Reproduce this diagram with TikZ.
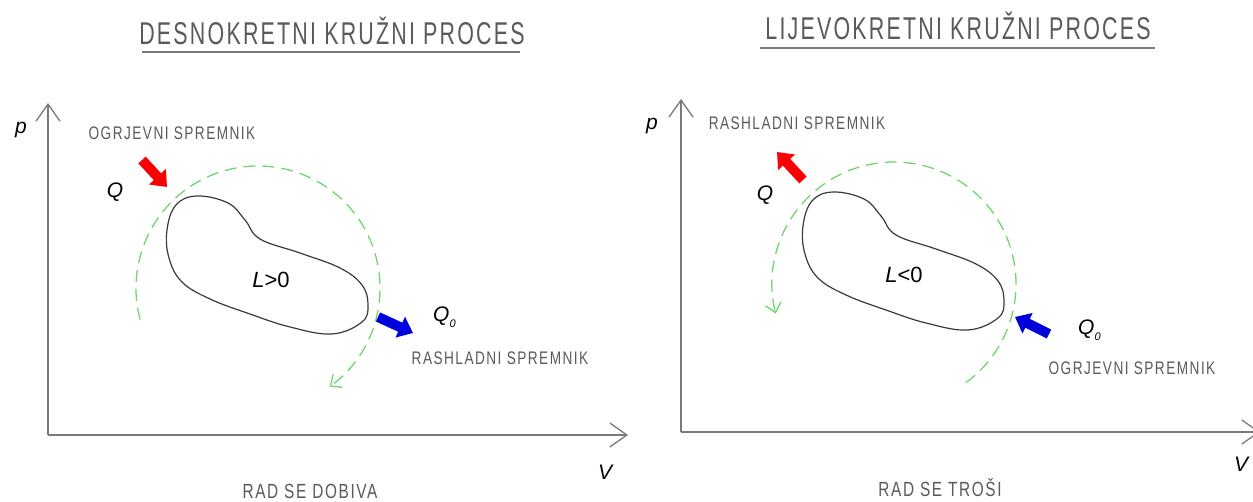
\documentclass[tikz,border=0pt]{standalone}
\usepackage{fontspec}
\setmainfont{Liberation Sans}
\newfontfamily\titlefont[FakeStretch=0.68,LetterSpace=7]{Liberation Sans}
\newfontfamily\lblfont[FakeStretch=0.75,LetterSpace=8]{Liberation Sans}
\usetikzlibrary{arrows.meta}
\definecolor{txtgray}{HTML}{5A5A5A}
\definecolor{axisgray}{HTML}{7A7A7A}
\definecolor{cycgray}{HTML}{3A3A3A}
\definecolor{flowgreen}{RGB}{110,215,110}
\definecolor{hotred}{RGB}{250,0,0}
\definecolor{coldblue}{RGB}{0,0,220}
\tikzset{
  axis/.style={draw=axisgray, line width=1.3pt, -{Straight Barb[length=17pt,width=24pt]}},
  cyc/.style={draw=cycgray, line width=1.2pt},
  flow/.style={draw=flowgreen, line width=1.3pt, dash pattern=on 12pt off 7pt, -{Straight Barb[length=9pt,width=16pt]}},
  hotarrow/.style={draw=hotred, line width=10pt, -{Triangle[length=14pt,width=22pt]}, hotred},
  coldarrow/.style={draw=coldblue, line width=10pt, -{Triangle[length=14pt,width=22pt]}, coldblue},
  lbl/.style={text=txtgray, inner sep=0pt, anchor=base, font=\lblfont\fontsize{18.2}{20}\selectfont},
  biglbl/.style={lbl, font=\lblfont\fontsize{20.5}{22}\selectfont},
  ttl/.style={text=txtgray, inner sep=0pt, anchor=base, font=\titlefont\fontsize{31.5}{33}\selectfont},
  sym/.style={text=black, inner sep=0pt, anchor=base, font=\fontsize{21}{23}\selectfont},
  uline/.style={draw=axisgray, line width=1.3pt}
}
\newcommand{\cycleshape}{%
  \draw[cyc] plot[smooth cycle, tension=0.65] coordinates {
    (197,-196) (228,-203) (245,-220) (260,-239) (300,-253) (340,-268)
    (362,-285) (368,-305) (362,-322) (332,-334) (290,-327) (250,-314)
    (210,-299) (182,-282) (169,-258) (167,-230) (176,-205)};}
\begin{document}
\begin{tikzpicture}[x=1pt,y=1pt]
\useasboundingbox (0,0) rectangle (1253,-502);
\clip (0,0) rectangle (1253,-502);
\fill[white] (0,0) rectangle (1253,-502);

% ---------------- left panel ----------------
\node[ttl] (t1) at (332,-45) {DESNOKRETNI KRUŽNI PROCES};
\coordinate (u1a) at (142,-52);
\coordinate (u1b) at (520,-52);
\draw[uline] (u1a) -- (u1b);

\coordinate (o1) at (48,-435);
\coordinate (py1) at (48,-103);
\coordinate (vx1) at (628,-435);
\draw[axis] (o1) -- (py1);
\draw[axis] (o1) -- (vx1);
\node[sym] (p1) at (21,-134) {\itshape p};
\node[sym] (v1) at (605,-479) {\itshape V};

\cycleshape
\node[sym, font=\fontsize{22}{24}\selectfont] (l1) at (271,-288) {\itshape L\upshape >0};

\draw[flow] (258,-288) ++(195:122) arc[start angle=195, end angle=-54, radius=122];

\coordinate (h1a) at (142,-160);
\coordinate (h1b) at (167,-187);
\draw[hotarrow] (h1a) -- (h1b);
\coordinate (c1a) at (378,-317);
\coordinate (c1b) at (413,-333);
\draw[coldarrow] (c1a) -- (c1b);

\node[lbl] (og1) at (172,-140) {OGRJEVNI SPREMNIK};
\node[lbl] (ra1) at (500,-365) {RASHLADNI SPREMNIK};
\node[biglbl] (rd1) at (310,-498) {RAD SE DOBIVA};
\node[sym] (q1) at (115,-198) {\itshape Q};
\node[sym, anchor=base west] (q01) at (433,-322) {\itshape Q\raisebox{-6pt}{\fontsize{11}{11}\selectfont 0}};

% ---------------- right panel ----------------
\node[ttl] (t2) at (958,-40) {LIJEVOKRETNI KRUŽNI PROCES};
\coordinate (u2a) at (760,-48);
\coordinate (u2b) at (1155,-48);
\draw[uline] (u2a) -- (u2b);

\coordinate (o2) at (681,-432);
\coordinate (py2) at (681,-99);
\coordinate (vx2) at (1260,-432);
\draw[axis] (o2) -- (py2);
\draw[axis] (o2) -- (vx2);
\node[sym] (p2) at (652,-130) {\itshape p};
\node[sym] (v2) at (1241,-471) {\itshape V};

\begin{scope}[shift={(636,4)}]
\cycleshape
\end{scope}
\node[sym, font=\fontsize{22}{24}\selectfont] (l2) at (904,-283) {\itshape L\upshape <0};

\draw[flow] (894,-284) ++(-54:122) arc[start angle=-54, end angle=194, radius=122];

\coordinate (h2a) at (803,-180);
\coordinate (h2b) at (777,-152);
\draw[hotarrow] (h2a) -- (h2b);
\coordinate (c2a) at (1049,-334);
\coordinate (c2b) at (1015,-317);
\draw[coldarrow] (c2a) -- (c2b);

\node[lbl] (ra2) at (797,-130) {RASHLADNI SPREMNIK};
\node[lbl] (og2) at (1132,-375) {OGRJEVNI SPREMNIK};
\node[biglbl] (rd2) at (940,-496) {RAD SE TROŠI};
\node[sym] (q2) at (765,-201) {\itshape Q};
\node[sym, anchor=base west] (q02) at (1078,-335) {\itshape Q\raisebox{-6pt}{\fontsize{11}{11}\selectfont 0}};
\end{tikzpicture}
\end{document}
